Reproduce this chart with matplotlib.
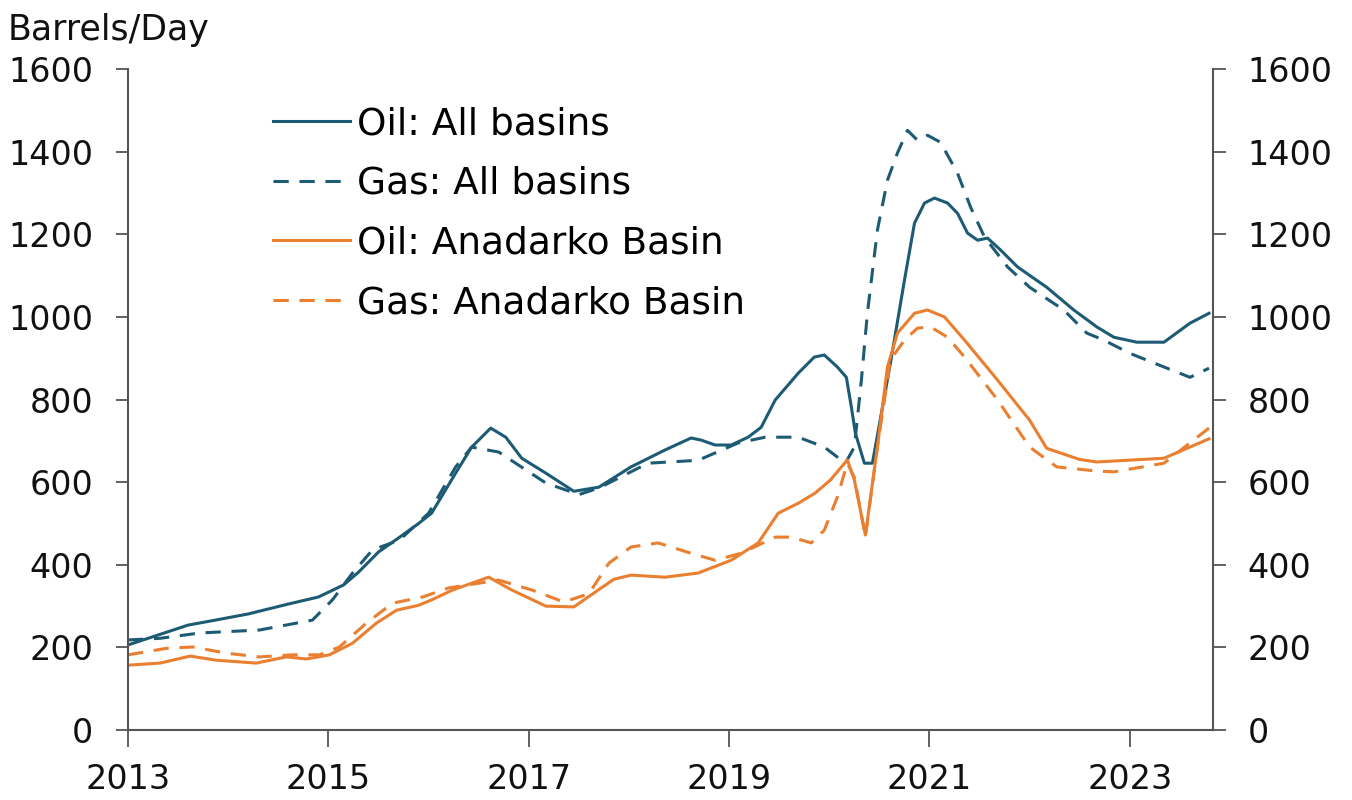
import numpy as np
import matplotlib.pyplot as plt

# decimal years / values (barrels per day)
oil_all_x = [2013.0, 2013.3, 2013.6, 2013.87, 2014.2, 2014.6, 2014.9, 2015.15, 2015.3, 2015.5,
             2015.7, 2015.9, 2016.03, 2016.27, 2016.43, 2016.62, 2016.77, 2016.93, 2017.17, 2017.45,
             2017.7, 2018.02, 2018.36, 2018.62, 2018.72, 2018.86, 2019.02, 2019.19, 2019.32, 2019.46,
             2019.69, 2019.85, 2019.95, 2020.08, 2020.17, 2020.22, 2020.26, 2020.35, 2020.43, 2020.52,
             2020.61, 2020.75, 2020.85, 2020.95, 2021.05, 2021.18, 2021.28, 2021.38, 2021.48, 2021.58,
             2021.71, 2021.88, 2022.17, 2022.44, 2022.67, 2022.84, 2023.07, 2023.34, 2023.6, 2023.79]
oil_all_y = [206, 230, 254, 266, 281, 305, 322, 351, 382, 431,
             465, 500, 525, 622, 685, 731, 709, 658, 622, 578,
             588, 637, 678, 707, 702, 690, 690, 709, 733, 799,
             864, 903, 908, 879, 854, 782, 719, 646, 646, 767,
             888, 1089, 1227, 1276, 1288, 1276, 1251, 1203, 1186, 1191,
             1162, 1121, 1072, 1017, 976, 951, 939, 939, 985, 1009]

gas_all_x = [2013.0, 2013.32, 2013.72, 2014.31, 2014.84, 2015.04, 2015.24, 2015.44, 2015.71, 2016.0,
             2016.27, 2016.43, 2016.7, 2017.17, 2017.5, 2017.7, 2018.19, 2018.69, 2019.09, 2019.36,
             2019.69, 2019.95, 2020.16, 2020.25, 2020.32, 2020.38, 2020.48, 2020.58, 2020.68, 2020.78,
             2020.88, 2020.98, 2021.11, 2021.28, 2021.41, 2021.55, 2021.78, 2022.0, 2022.34, 2022.57,
             2022.74, 2023.0, 2023.34, 2023.6, 2023.79]
gas_all_y = [218, 222, 235, 242, 266, 315, 380, 436, 460, 525,
             637, 685, 673, 598, 570, 586, 646, 653, 695, 709,
             709, 685, 646, 685, 847, 1009, 1210, 1331, 1397, 1452,
             1428, 1440, 1423, 1348, 1266, 1193, 1121, 1072, 1017, 961,
             944, 912, 879, 854, 876]

oil_ana_x = [2013.0, 2013.32, 2013.62, 2013.88, 2014.28, 2014.58, 2014.78, 2015.01, 2015.24, 2015.48,
             2015.68, 2015.9, 2016.03, 2016.24, 2016.6, 2016.83, 2017.17, 2017.45, 2017.7, 2017.85,
             2018.02, 2018.36, 2018.69, 2019.02, 2019.29, 2019.49, 2019.69, 2019.86, 2020.01, 2020.18,
             2020.25, 2020.36, 2020.48, 2020.58, 2020.68, 2020.85, 2020.98, 2021.15, 2021.35, 2021.68,
             2022.0, 2022.17, 2022.5, 2022.67, 2023.34, 2023.79]
oil_ana_y = [157, 162, 179, 169, 162, 177, 172, 182, 210, 259,
             290, 302, 315, 339, 370, 339, 300, 298, 340, 365,
             375, 370, 380, 411, 453, 525, 549, 574, 605, 654,
             605, 472, 685, 879, 961, 1009, 1017, 1000, 944, 847,
             750, 682, 655, 649, 658, 705]

gas_ana_x = [2013.0, 2013.39, 2013.65, 2013.98, 2014.31, 2014.64, 2014.91, 2015.11, 2015.38, 2015.64,
             2015.94, 2016.2, 2016.7, 2017.03, 2017.35, 2017.6, 2017.8, 2018.02, 2018.29, 2018.62,
             2018.86, 2019.12, 2019.46, 2019.62, 2019.82, 2019.95, 2020.08, 2020.18, 2020.25, 2020.36,
             2020.48, 2020.61, 2020.75, 2020.88, 2021.01, 2021.18, 2021.35, 2021.68, 2022.0, 2022.27,
             2022.67, 2022.84, 2023.34, 2023.79]
gas_ana_y = [182, 198, 201, 186, 177, 182, 182, 201, 259, 307,
             322, 344, 363, 339, 310, 330, 404, 443, 453, 428,
             411, 428, 467, 467, 453, 484, 564, 646, 612, 467,
             685, 896, 944, 973, 976, 951, 903, 799, 685, 637,
             627, 625, 646, 731]

labels = ["Oil: All basins", "Gas: All basins", "Oil: Anadarko Basin", "Gas: Anadarko Basin"]
year_ticks = [2013, 2015, 2017, 2019, 2021, 2023]
y_ticks = [0, 200, 400, 600, 800, 1000, 1200, 1400, 1600]

teal = "#1d5b74"
orange = "#ea7f30"
fs = 24

fig = plt.figure(figsize=(13.52, 8), dpi=100)
ax = fig.add_axes([0.0947, 0.0875, 0.8025, 0.826])

ax.plot(oil_all_x, oil_all_y, color=teal, lw=2.2, label=labels[0])
ax.plot(gas_all_x, gas_all_y, color=teal, lw=2.2, ls=(0, (5, 3.5)), label=labels[1])
ax.plot(oil_ana_x, oil_ana_y, color=orange, lw=2.2, label=labels[2])
ax.plot(gas_ana_x, gas_ana_y, color=orange, lw=2.2, ls=(0, (5, 3.5)), label=labels[3])

ax.set_xlim(2013, 2023.83)
ax.set_ylim(0, 1600)
ax.set_xticks(year_ticks)
ax.set_xticklabels([str(y) for y in year_ticks])
ax.set_yticks(y_ticks)

ax2 = ax.twinx()
ax2.set_ylim(0, 1600)
ax2.set_yticks(y_ticks)

for a in (ax, ax2):
    a.spines["top"].set_visible(False)
    for s in a.spines.values():
        s.set_color("#555555")
        s.set_linewidth(1.5)
ax.spines["right"].set_visible(False)
ax2.spines["left"].set_visible(False)
ax2.spines["bottom"].set_visible(False)

ax.tick_params(axis="y", direction="out", length=9, width=1.3, color="#555555",
               pad=16, labelsize=fs, labelcolor="#111111")
ax.tick_params(axis="x", direction="out", length=12, width=1.3, color="#555555",
               pad=12, labelsize=fs, labelcolor="#111111")
ax2.tick_params(axis="y", direction="out", length=9, width=1.3, color="#555555",
                pad=16, labelsize=fs, labelcolor="#111111")

fig.text(0.006, 0.962, "Barrels/Day", fontsize=25, va="center", ha="left", color="#111111")

ax.legend(loc="upper left", bbox_to_anchor=(0.1336, 0.944), frameon=False, fontsize=27,
          handlelength=2.05, handletextpad=0.19, labelspacing=0.63, borderpad=0, borderaxespad=0)

fig.savefig("out.png", dpi=100)
